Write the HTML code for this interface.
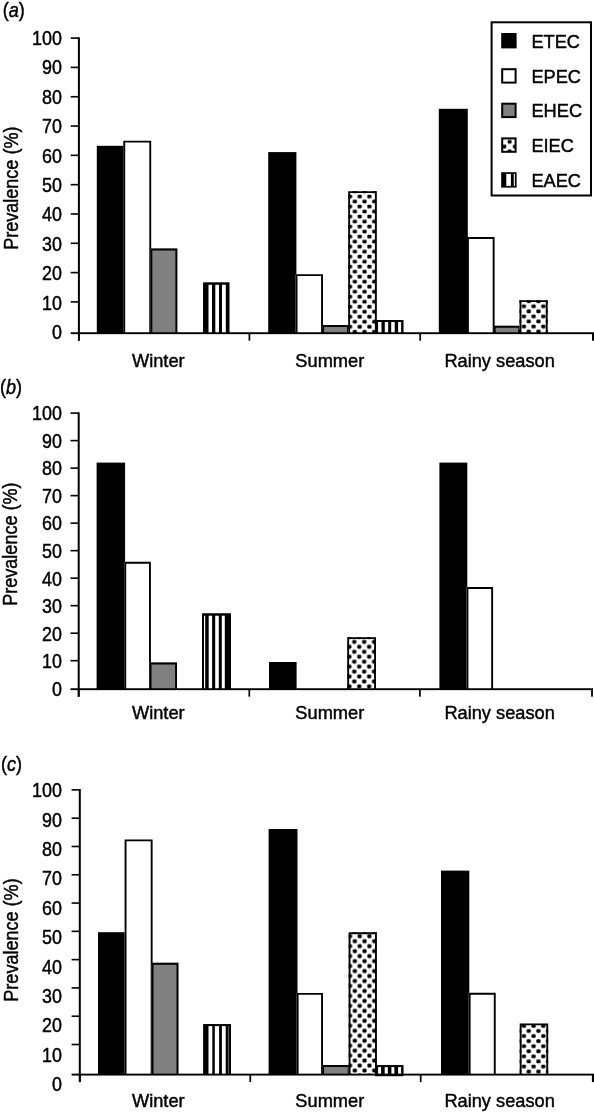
<!DOCTYPE html>
<html><head><meta charset="utf-8"><title>Prevalence</title>
<style>
html,body{margin:0;padding:0;background:#fff;}
svg{display:block;}
text{font-family:"Liberation Sans",sans-serif;fill:#000;stroke:#000;stroke-width:0.45px;}
</style></head><body>
<svg width="594" height="1113" viewBox="0 0 594 1113">
<defs>
<filter id="soft" x="0" y="0" width="100%" height="100%" color-interpolation-filters="sRGB"><feGaussianBlur stdDeviation="0.4"/></filter>
<pattern id="d1" patternUnits="userSpaceOnUse" x="357.27" y="194.00" width="9.7" height="10.02"><rect width="9.7" height="10.02" fill="#fff"/><rect x="0.325" y="0.605" width="4.2" height="3.8" rx="1.30" fill="#000"/><rect x="5.175" y="5.615" width="4.2" height="3.8" rx="1.30" fill="#000"/></pattern>
<pattern id="d2" patternUnits="userSpaceOnUse" x="521.48" y="303.78" width="9.7" height="10.1"><rect width="9.7" height="10.1" fill="#fff"/><rect x="0.325" y="0.625" width="4.2" height="3.8" rx="1.30" fill="#000"/><rect x="5.175" y="5.675" width="4.2" height="3.8" rx="1.30" fill="#000"/></pattern>
<pattern id="d3" patternUnits="userSpaceOnUse" x="506.95" y="139.40" width="10.6" height="9.6"><rect width="10.6" height="9.6" fill="#fff"/><rect x="0.655" y="0.595" width="3.9899999999999998" height="3.61" rx="1.23" fill="#000"/><rect x="5.955" y="5.395" width="3.9899999999999998" height="3.61" rx="1.23" fill="#000"/></pattern>
<pattern id="d4" patternUnits="userSpaceOnUse" x="351.82" y="639.42" width="9.9" height="9.9"><rect width="9.9" height="9.9" fill="#fff"/><rect x="0.375" y="0.575" width="4.2" height="3.8" rx="1.30" fill="#000"/><rect x="5.325" y="5.525" width="4.2" height="3.8" rx="1.30" fill="#000"/></pattern>
<pattern id="d5" patternUnits="userSpaceOnUse" x="357.27" y="943.71" width="9.7" height="9.95"><rect width="9.7" height="9.95" fill="#fff"/><rect x="0.325" y="0.587" width="4.2" height="3.8" rx="1.30" fill="#000"/><rect x="5.175" y="5.562" width="4.2" height="3.8" rx="1.30" fill="#000"/></pattern>
<pattern id="d6" patternUnits="userSpaceOnUse" x="521.48" y="1023.36" width="9.7" height="10.15"><rect width="9.7" height="10.15" fill="#fff"/><rect x="0.325" y="0.638" width="4.2" height="3.8" rx="1.30" fill="#000"/><rect x="5.175" y="5.713" width="4.2" height="3.8" rx="1.30" fill="#000"/></pattern>
</defs>
<rect width="594" height="1113" fill="#fff"/>
<g filter="url(#soft)">
<rect width="594" height="1113" fill="#fff"/>
<rect x="96.80" y="145.80" width="28.00" height="187.40" fill="#000"/>
<rect x="123.30" y="140.70" width="27.90" height="192.50" fill="#fff"/>
<path d="M124.25,333.20 L124.25,141.65 L150.25,141.65 L150.25,333.20" fill="none" stroke="#000" stroke-width="1.9" stroke-linejoin="miter"/>
<rect x="150.40" y="248.50" width="26.90" height="84.70" fill="#808080"/>
<path d="M151.35,333.20 L151.35,249.45 L176.35,249.45 L176.35,333.20" fill="none" stroke="#000" stroke-width="1.9" stroke-linejoin="miter"/>
<rect x="203.20" y="282.60" width="26.10" height="50.60" fill="#000"/>
<rect x="208.50" y="284.50" width="3.50" height="48.70" fill="#fff"/>
<rect x="215.30" y="284.50" width="3.70" height="48.70" fill="#fff"/>
<rect x="222.00" y="284.50" width="3.80" height="48.70" fill="#fff"/>
<path d="M204.15,333.20 L204.15,283.55 L228.35,283.55 L228.35,333.20" fill="none" stroke="#000" stroke-width="1.9" stroke-linejoin="miter"/>
<rect x="268.20" y="152.10" width="28.20" height="181.10" fill="#000"/>
<rect x="295.60" y="274.20" width="27.40" height="59.00" fill="#fff"/>
<path d="M296.55,333.20 L296.55,275.15 L322.05,275.15 L322.05,333.20" fill="none" stroke="#000" stroke-width="1.9" stroke-linejoin="miter"/>
<rect x="322.20" y="325.00" width="26.80" height="8.20" fill="#808080"/>
<path d="M323.15,333.20 L323.15,325.95 L348.05,325.95 L348.05,333.20" fill="none" stroke="#000" stroke-width="1.9" stroke-linejoin="miter"/>
<rect x="348.20" y="191.20" width="28.60" height="142.00" fill="url(#d1)"/>
<path d="M349.15,333.20 L349.15,192.15 L375.85,192.15 L375.85,333.20" fill="none" stroke="#000" stroke-width="1.9" stroke-linejoin="miter"/>
<rect x="376.20" y="320.00" width="27.10" height="13.20" fill="#000"/>
<rect x="377.90" y="321.90" width="3.60" height="11.30" fill="#fff"/>
<rect x="384.80" y="321.90" width="3.40" height="11.30" fill="#fff"/>
<rect x="391.20" y="321.90" width="3.50" height="11.30" fill="#fff"/>
<rect x="398.10" y="321.90" width="3.20" height="11.30" fill="#fff"/>
<path d="M377.15,333.20 L377.15,320.95 L402.35,320.95 L402.35,333.20" fill="none" stroke="#000" stroke-width="1.9" stroke-linejoin="miter"/>
<rect x="438.80" y="108.80" width="29.00" height="224.40" fill="#000"/>
<rect x="467.00" y="237.00" width="27.60" height="96.20" fill="#fff"/>
<path d="M467.95,333.20 L467.95,237.95 L493.65,237.95 L493.65,333.20" fill="none" stroke="#000" stroke-width="1.9" stroke-linejoin="miter"/>
<rect x="493.80" y="325.80" width="26.40" height="7.40" fill="#808080"/>
<path d="M494.75,333.20 L494.75,326.75 L519.25,326.75 L519.25,333.20" fill="none" stroke="#000" stroke-width="1.9" stroke-linejoin="miter"/>
<rect x="519.50" y="300.20" width="28.20" height="33.00" fill="url(#d2)"/>
<path d="M520.45,333.20 L520.45,301.15 L546.75,301.15 L546.75,333.20" fill="none" stroke="#000" stroke-width="1.9" stroke-linejoin="miter"/>
<rect x="77.90" y="37.30" width="2" height="303.40" fill="#000"/>
<rect x="70.70" y="37.30" width="8.2" height="1.6" fill="#000"/>
<rect x="70.70" y="66.61" width="8.2" height="1.6" fill="#000"/>
<rect x="70.70" y="95.92" width="8.2" height="1.6" fill="#000"/>
<rect x="70.70" y="125.23" width="8.2" height="1.6" fill="#000"/>
<rect x="70.70" y="154.54" width="8.2" height="1.6" fill="#000"/>
<rect x="70.70" y="183.86" width="8.2" height="1.6" fill="#000"/>
<rect x="70.70" y="213.17" width="8.2" height="1.6" fill="#000"/>
<rect x="70.70" y="242.48" width="8.2" height="1.6" fill="#000"/>
<rect x="70.70" y="271.79" width="8.2" height="1.6" fill="#000"/>
<rect x="70.70" y="301.10" width="8.2" height="1.6" fill="#000"/>
<rect x="70.70" y="332.25" width="523.80" height="1.9" fill="#000"/>
<rect x="78.05" y="333.20" width="1.7" height="7.50" fill="#000"/>
<rect x="248.55" y="333.20" width="1.7" height="7.50" fill="#000"/>
<rect x="419.35" y="333.20" width="1.7" height="7.50" fill="#000"/>
<rect x="592.00" y="333.20" width="3" height="7.50" fill="#000"/>
<text transform="translate(61.90,44.80) scale(0.895,1)" font-size="20" text-anchor="end" >100</text>
<text transform="translate(61.90,74.24) scale(0.895,1)" font-size="20" text-anchor="end" >90</text>
<text transform="translate(61.90,103.68) scale(0.895,1)" font-size="20" text-anchor="end" >80</text>
<text transform="translate(61.90,133.12) scale(0.895,1)" font-size="20" text-anchor="end" >70</text>
<text transform="translate(61.90,162.56) scale(0.895,1)" font-size="20" text-anchor="end" >60</text>
<text transform="translate(61.90,192.00) scale(0.895,1)" font-size="20" text-anchor="end" >50</text>
<text transform="translate(61.90,221.44) scale(0.895,1)" font-size="20" text-anchor="end" >40</text>
<text transform="translate(61.90,250.88) scale(0.895,1)" font-size="20" text-anchor="end" >30</text>
<text transform="translate(61.90,280.32) scale(0.895,1)" font-size="20" text-anchor="end" >20</text>
<text transform="translate(61.90,309.76) scale(0.895,1)" font-size="20" text-anchor="end" >10</text>
<text transform="translate(61.90,339.20) scale(0.895,1)" font-size="20" text-anchor="end" >0</text>
<text transform="translate(158.30,366.60) scale(0.96,1)" font-size="19" text-anchor="middle" >Winter</text>
<text transform="translate(329.80,366.60) scale(0.96,1)" font-size="19" text-anchor="middle" >Summer</text>
<text transform="translate(499.60,366.60) scale(0.96,1)" font-size="19" text-anchor="middle" >Rainy season</text>
<text transform="translate(2.7,16.599999999999998) scale(0.88,1)" font-size="20.5">(<tspan font-style="italic">a</tspan>)</text>
<text transform="translate(17.7,188.20) rotate(-90) scale(0.885,1)" font-size="20.4" text-anchor="middle">Prevalence (%)</text>
<rect x="491.6" y="22.3" width="99.4" height="173.2" fill="#fff" stroke="#000" stroke-width="2"/>
<rect x="501.2" y="33.0" width="15.4" height="15.4" fill="#000"/>
<text transform="translate(531.40,47.60) scale(0.96,1)" font-size="19" text-anchor="start" >ETEC</text>
<rect x="502.2" y="69.2" width="13.4" height="13.4" fill="#fff" stroke="#000" stroke-width="2"/>
<text transform="translate(531.40,82.80) scale(0.96,1)" font-size="19" text-anchor="start" >EPEC</text>
<rect x="502.2" y="103.7" width="13.4" height="13.4" fill="#808080" stroke="#000" stroke-width="2"/>
<text transform="translate(531.40,117.30) scale(0.96,1)" font-size="19" text-anchor="start" >EHEC</text>
<rect x="502.2" y="138.4" width="13.4" height="13.4" fill="url(#d3)" stroke="#000" stroke-width="2"/>
<text transform="translate(531.40,152.00) scale(0.96,1)" font-size="19" text-anchor="start" >EIEC</text>
<rect x="501.2" y="172.2" width="15.4" height="15.4" fill="#000"/>
<rect x="506.3" y="173.89999999999998" width="4.6" height="12.0" fill="#fff"/>
<rect x="513.8" y="173.89999999999998" width="1.1" height="12.0" fill="#fff"/>
<text transform="translate(531.40,186.80) scale(0.96,1)" font-size="19" text-anchor="start" >EAEC</text>
<rect x="96.60" y="462.60" width="28.50" height="226.60" fill="#000"/>
<rect x="124.30" y="561.80" width="26.60" height="127.40" fill="#fff"/>
<path d="M125.25,689.20 L125.25,562.75 L149.95,562.75 L149.95,689.20" fill="none" stroke="#000" stroke-width="1.9" stroke-linejoin="miter"/>
<rect x="149.60" y="662.50" width="27.40" height="26.70" fill="#808080"/>
<path d="M150.55,689.20 L150.55,663.45 L176.05,663.45 L176.05,689.20" fill="none" stroke="#000" stroke-width="1.9" stroke-linejoin="miter"/>
<rect x="202.00" y="613.50" width="28.90" height="75.70" fill="#000"/>
<rect x="204.00" y="615.40" width="1.20" height="73.80" fill="#fff"/>
<rect x="208.70" y="615.40" width="3.40" height="73.80" fill="#fff"/>
<rect x="215.20" y="615.40" width="3.60" height="73.80" fill="#fff"/>
<rect x="221.80" y="615.40" width="3.00" height="73.80" fill="#fff"/>
<path d="M202.95,689.20 L202.95,614.45 L229.95,614.45 L229.95,689.20" fill="none" stroke="#000" stroke-width="1.9" stroke-linejoin="miter"/>
<rect x="269.00" y="662.00" width="27.60" height="27.20" fill="#000"/>
<rect x="347.20" y="637.20" width="28.80" height="52.00" fill="url(#d4)"/>
<path d="M348.15,689.20 L348.15,638.15 L375.05,638.15 L375.05,689.20" fill="none" stroke="#000" stroke-width="1.9" stroke-linejoin="miter"/>
<rect x="439.40" y="462.60" width="27.90" height="226.60" fill="#000"/>
<rect x="466.50" y="587.10" width="26.60" height="102.10" fill="#fff"/>
<path d="M467.45,689.20 L467.45,588.05 L492.15,588.05 L492.15,689.20" fill="none" stroke="#000" stroke-width="1.9" stroke-linejoin="miter"/>
<rect x="77.70" y="412.30" width="2" height="284.40" fill="#000"/>
<rect x="70.50" y="412.30" width="8.2" height="1.6" fill="#000"/>
<rect x="70.50" y="439.81" width="8.2" height="1.6" fill="#000"/>
<rect x="70.50" y="467.32" width="8.2" height="1.6" fill="#000"/>
<rect x="70.50" y="494.83" width="8.2" height="1.6" fill="#000"/>
<rect x="70.50" y="522.34" width="8.2" height="1.6" fill="#000"/>
<rect x="70.50" y="549.86" width="8.2" height="1.6" fill="#000"/>
<rect x="70.50" y="577.37" width="8.2" height="1.6" fill="#000"/>
<rect x="70.50" y="604.88" width="8.2" height="1.6" fill="#000"/>
<rect x="70.50" y="632.39" width="8.2" height="1.6" fill="#000"/>
<rect x="70.50" y="659.90" width="8.2" height="1.6" fill="#000"/>
<rect x="70.50" y="688.25" width="522.40" height="1.9" fill="#000"/>
<rect x="77.85" y="689.20" width="1.7" height="7.50" fill="#000"/>
<rect x="248.45" y="689.20" width="1.7" height="7.50" fill="#000"/>
<rect x="419.05" y="689.20" width="1.7" height="7.50" fill="#000"/>
<rect x="591.10" y="689.20" width="1.8" height="7.50" fill="#000"/>
<text transform="translate(61.90,419.90) scale(0.895,1)" font-size="20" text-anchor="end" >100</text>
<text transform="translate(61.90,447.52) scale(0.895,1)" font-size="20" text-anchor="end" >90</text>
<text transform="translate(61.90,475.14) scale(0.895,1)" font-size="20" text-anchor="end" >80</text>
<text transform="translate(61.90,502.76) scale(0.895,1)" font-size="20" text-anchor="end" >70</text>
<text transform="translate(61.90,530.38) scale(0.895,1)" font-size="20" text-anchor="end" >60</text>
<text transform="translate(61.90,558.00) scale(0.895,1)" font-size="20" text-anchor="end" >50</text>
<text transform="translate(61.90,585.62) scale(0.895,1)" font-size="20" text-anchor="end" >40</text>
<text transform="translate(61.90,613.24) scale(0.895,1)" font-size="20" text-anchor="end" >30</text>
<text transform="translate(61.90,640.86) scale(0.895,1)" font-size="20" text-anchor="end" >20</text>
<text transform="translate(61.90,668.48) scale(0.895,1)" font-size="20" text-anchor="end" >10</text>
<text transform="translate(61.90,696.10) scale(0.895,1)" font-size="20" text-anchor="end" >0</text>
<text transform="translate(158.30,719.40) scale(0.96,1)" font-size="19" text-anchor="middle" >Winter</text>
<text transform="translate(329.80,719.40) scale(0.96,1)" font-size="19" text-anchor="middle" >Summer</text>
<text transform="translate(499.60,719.40) scale(0.96,1)" font-size="19" text-anchor="middle" >Rainy season</text>
<text transform="translate(0.0,394.4) scale(0.88,1)" font-size="20.5">(<tspan font-style="italic">b</tspan>)</text>
<text transform="translate(16.9,544.10) rotate(-90) scale(0.885,1)" font-size="20.4" text-anchor="middle">Prevalence (%)</text>
<rect x="375.0" y="1074.3" width="28.3" height="1.9" fill="#000"/>
<rect x="98.00" y="932.20" width="27.80" height="142.40" fill="#000"/>
<rect x="124.60" y="839.40" width="28.00" height="235.20" fill="#fff"/>
<path d="M125.55,1074.60 L125.55,840.35 L151.65,840.35 L151.65,1074.60" fill="none" stroke="#000" stroke-width="1.9" stroke-linejoin="miter"/>
<rect x="151.60" y="962.80" width="26.80" height="111.80" fill="#808080"/>
<path d="M152.55,1074.60 L152.55,963.75 L177.45,963.75 L177.45,1074.60" fill="none" stroke="#000" stroke-width="1.9" stroke-linejoin="miter"/>
<rect x="203.30" y="1024.20" width="27.70" height="50.40" fill="#000"/>
<rect x="208.50" y="1026.10" width="3.80" height="48.50" fill="#fff"/>
<rect x="214.80" y="1026.10" width="4.30" height="48.50" fill="#fff"/>
<rect x="221.90" y="1026.10" width="3.80" height="48.50" fill="#fff"/>
<rect x="227.80" y="1026.10" width="2.10" height="48.50" fill="#555"/>
<path d="M204.25,1074.60 L204.25,1025.15 L230.05,1025.15 L230.05,1074.60" fill="none" stroke="#000" stroke-width="1.9" stroke-linejoin="miter"/>
<rect x="268.60" y="829.00" width="28.90" height="245.60" fill="#000"/>
<rect x="296.70" y="992.90" width="26.30" height="81.70" fill="#fff"/>
<path d="M297.65,1074.60 L297.65,993.85 L322.05,993.85 L322.05,1074.60" fill="none" stroke="#000" stroke-width="1.9" stroke-linejoin="miter"/>
<rect x="322.20" y="1065.00" width="27.40" height="9.60" fill="#808080"/>
<path d="M323.15,1074.60 L323.15,1065.95 L348.65,1065.95 L348.65,1074.60" fill="none" stroke="#000" stroke-width="1.9" stroke-linejoin="miter"/>
<rect x="348.60" y="932.30" width="28.30" height="142.30" fill="url(#d5)"/>
<path d="M349.55,1074.60 L349.55,933.25 L375.95,933.25 L375.95,1074.60" fill="none" stroke="#000" stroke-width="1.9" stroke-linejoin="miter"/>
<rect x="375.70" y="1065.20" width="27.60" height="9.40" fill="#000"/>
<rect x="378.10" y="1067.10" width="3.00" height="7.50" fill="#fff"/>
<rect x="384.70" y="1067.10" width="3.10" height="7.50" fill="#fff"/>
<rect x="391.40" y="1067.10" width="3.00" height="7.50" fill="#fff"/>
<rect x="398.10" y="1067.10" width="3.20" height="7.50" fill="#fff"/>
<path d="M376.65,1074.60 L376.65,1066.15 L402.35,1066.15 L402.35,1074.60" fill="none" stroke="#000" stroke-width="1.9" stroke-linejoin="miter"/>
<rect x="441.00" y="870.60" width="28.30" height="204.00" fill="#000"/>
<rect x="468.70" y="992.80" width="27.00" height="81.80" fill="#fff"/>
<path d="M469.65,1074.60 L469.65,993.75 L494.75,993.75 L494.75,1074.60" fill="none" stroke="#000" stroke-width="1.9" stroke-linejoin="miter"/>
<rect x="519.70" y="1023.40" width="28.50" height="51.20" fill="url(#d6)"/>
<path d="M520.65,1074.60 L520.65,1024.35 L547.25,1024.35 L547.25,1074.60" fill="none" stroke="#000" stroke-width="1.9" stroke-linejoin="miter"/>
<rect x="78.80" y="789.10" width="2" height="293.00" fill="#000"/>
<rect x="71.60" y="789.10" width="8.2" height="1.6" fill="#000"/>
<rect x="71.60" y="817.39" width="8.2" height="1.6" fill="#000"/>
<rect x="71.60" y="845.68" width="8.2" height="1.6" fill="#000"/>
<rect x="71.60" y="873.97" width="8.2" height="1.6" fill="#000"/>
<rect x="71.60" y="902.26" width="8.2" height="1.6" fill="#000"/>
<rect x="71.60" y="930.54" width="8.2" height="1.6" fill="#000"/>
<rect x="71.60" y="958.83" width="8.2" height="1.6" fill="#000"/>
<rect x="71.60" y="987.12" width="8.2" height="1.6" fill="#000"/>
<rect x="71.60" y="1015.41" width="8.2" height="1.6" fill="#000"/>
<rect x="71.60" y="1043.70" width="8.2" height="1.6" fill="#000"/>
<rect x="71.60" y="1073.65" width="522.90" height="1.9" fill="#000"/>
<rect x="78.95" y="1074.60" width="1.7" height="7.50" fill="#000"/>
<rect x="249.45" y="1074.60" width="1.7" height="7.50" fill="#000"/>
<rect x="419.85" y="1074.60" width="1.7" height="7.50" fill="#000"/>
<rect x="591.90" y="1074.60" width="3" height="7.50" fill="#000"/>
<text transform="translate(61.90,797.20) scale(0.895,1)" font-size="20" text-anchor="end" >100</text>
<text transform="translate(61.90,826.59) scale(0.895,1)" font-size="20" text-anchor="end" >90</text>
<text transform="translate(61.90,855.98) scale(0.895,1)" font-size="20" text-anchor="end" >80</text>
<text transform="translate(61.90,885.37) scale(0.895,1)" font-size="20" text-anchor="end" >70</text>
<text transform="translate(61.90,914.76) scale(0.895,1)" font-size="20" text-anchor="end" >60</text>
<text transform="translate(61.90,944.15) scale(0.895,1)" font-size="20" text-anchor="end" >50</text>
<text transform="translate(61.90,973.54) scale(0.895,1)" font-size="20" text-anchor="end" >40</text>
<text transform="translate(61.90,1002.93) scale(0.895,1)" font-size="20" text-anchor="end" >30</text>
<text transform="translate(61.90,1032.32) scale(0.895,1)" font-size="20" text-anchor="end" >20</text>
<text transform="translate(61.90,1061.71) scale(0.895,1)" font-size="20" text-anchor="end" >10</text>
<text transform="translate(61.90,1091.10) scale(0.895,1)" font-size="20" text-anchor="end" >0</text>
<text transform="translate(158.30,1107.00) scale(0.96,1)" font-size="19" text-anchor="middle" >Winter</text>
<text transform="translate(329.80,1107.00) scale(0.96,1)" font-size="19" text-anchor="middle" >Summer</text>
<text transform="translate(499.60,1107.00) scale(0.96,1)" font-size="19" text-anchor="middle" >Rainy season</text>
<text transform="translate(1.0,770.5) scale(0.88,1)" font-size="20.5">(<tspan font-style="italic">c</tspan>)</text>
<text transform="translate(18.3,940.00) rotate(-90) scale(0.885,1)" font-size="20.4" text-anchor="middle">Prevalence (%)</text>
</g>
</svg>
</body></html>
